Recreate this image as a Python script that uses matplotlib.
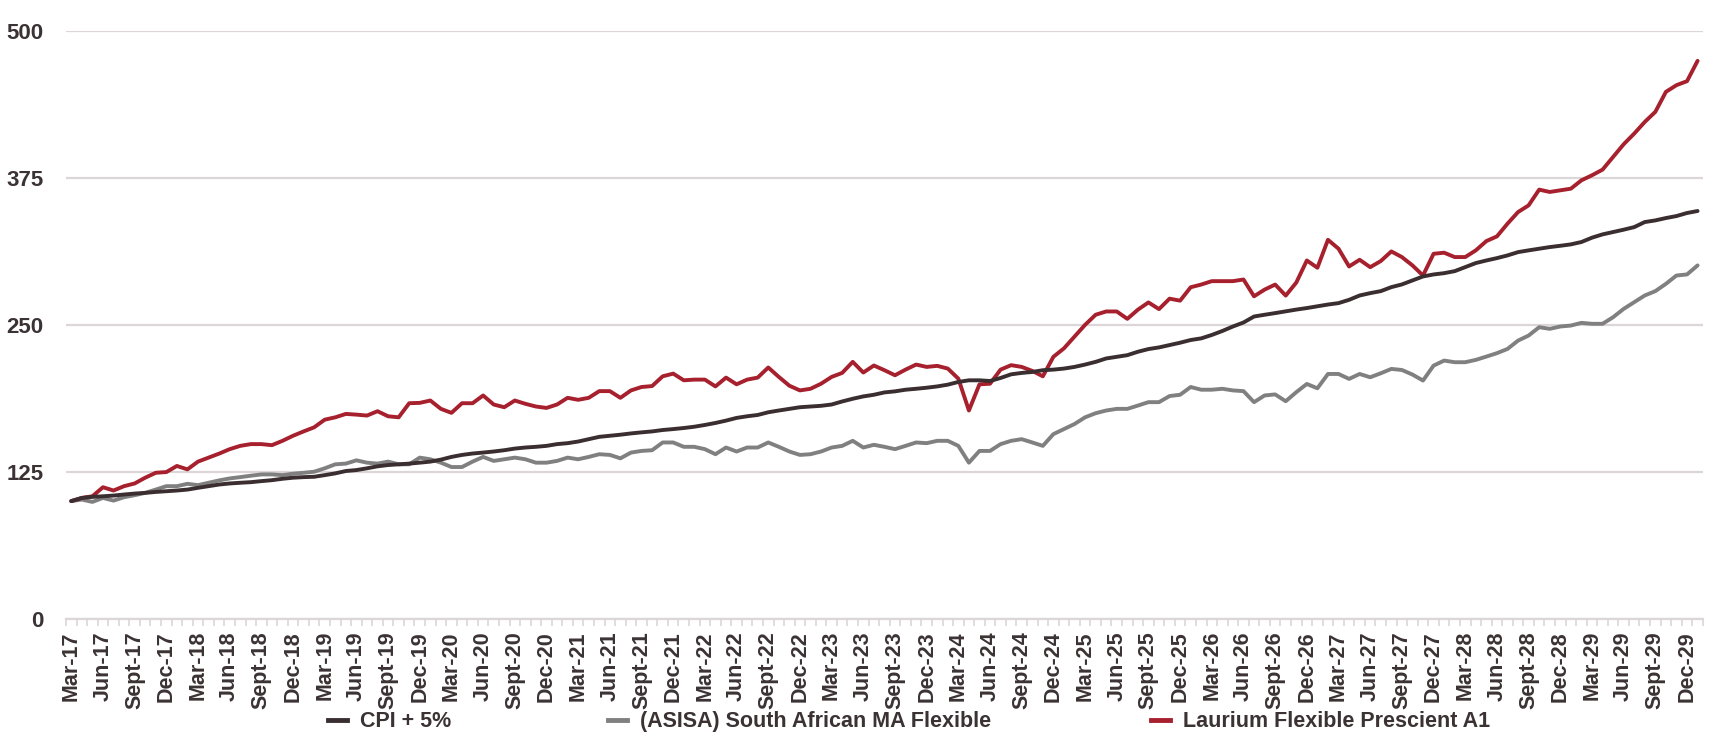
import matplotlib.pyplot as plt
from matplotlib.lines import Line2D

# monthly index values, Mar-17 .. Jan-30
cpi_plus_5 = [
    100.0, 102.7, 103.6, 104.1, 104.7, 105.6, 106.4, 107.0, 107.8, 108.4,
    109.0, 109.8, 111.3, 112.7, 114.1, 115.0, 115.6, 116.1, 117.0, 117.8,
    119.0, 119.9, 120.4, 120.7, 122.1, 123.6, 125.6, 126.4, 127.9, 129.6,
    130.7, 131.3, 131.9, 132.7, 133.6, 135.3, 137.6, 139.3, 140.5, 141.3,
    142.2, 143.3, 144.7, 145.6, 146.2, 147.0, 148.5, 149.3, 150.7, 152.7,
    154.7, 155.6, 156.5, 157.6, 158.5, 159.3, 160.5, 161.3, 162.2, 163.3,
    164.8, 166.5, 168.5, 170.8, 172.2, 173.3, 175.6, 177.1, 178.5, 179.9,
    180.5, 181.1, 182.2, 184.8, 187.1, 189.1, 190.5, 192.5, 193.4, 194.8,
    195.6, 196.5, 197.6, 199.1, 201.4, 202.8, 202.8, 202.2, 204.8, 207.9,
    209.1, 209.9, 211.4, 211.9, 212.8, 214.2, 216.2, 218.5, 221.4, 222.8,
    224.2, 227.1, 229.4, 230.8, 232.8, 234.8, 237.1, 238.5, 241.4, 244.8,
    248.6, 252.0, 257.1, 258.6, 260.0, 261.5, 263.0, 264.3, 265.8, 267.3,
    268.5, 271.3, 275.0, 277.0, 278.7, 282.1, 284.4, 287.8, 291.2, 292.9,
    294.0, 295.7, 299.1, 302.6, 304.8, 306.8, 309.1, 311.9, 313.4, 314.8,
    316.2, 317.3, 318.5, 320.5, 324.2, 327.0, 329.0, 331.0, 333.2, 337.5,
    338.9, 340.9, 342.6, 345.2, 346.9,
]

asisa_flexible = [
    100.0, 101.3, 99.3, 102.7, 100.4, 103.3, 105.0, 107.0, 109.8, 112.7,
    112.7, 114.7, 113.6, 115.6, 117.6, 119.3, 120.4, 121.6, 122.7, 122.7,
    122.1, 123.3, 124.1, 125.0, 127.9, 131.3, 131.9, 134.7, 132.7, 131.9,
    133.6, 131.3, 131.3, 137.0, 135.6, 132.7, 129.0, 129.0, 133.6, 137.6,
    134.2, 135.6, 137.0, 135.6, 132.7, 132.7, 134.2, 137.0, 135.6, 137.6,
    139.9, 139.3, 136.4, 141.3, 142.7, 143.3, 149.9, 149.9, 146.2, 146.2,
    144.2, 139.9, 145.6, 142.2, 145.6, 145.6, 149.9, 146.2, 142.2, 139.3,
    139.9, 142.2, 145.6, 147.0, 151.3, 145.6, 147.9, 146.2, 144.2, 147.0,
    149.9, 149.3, 151.3, 151.3, 147.0, 132.7, 142.7, 142.7, 148.5, 151.3,
    152.7, 149.9, 147.0, 157.0, 161.3, 165.6, 171.3, 174.8, 177.1, 178.5,
    178.5, 181.3, 184.2, 184.2, 189.4, 190.5, 197.1, 194.8, 194.8, 195.6,
    194.2, 193.6, 184.2, 189.9, 190.8, 185.0, 192.7, 199.7, 196.0, 208.2,
    208.2, 204.0, 208.2, 205.4, 208.8, 212.5, 211.6, 207.7, 202.6, 215.3,
    219.6, 218.2, 218.2, 220.2, 223.0, 225.9, 229.5, 236.6, 240.9, 248.0,
    246.6, 248.6, 249.4, 251.7, 250.9, 250.9, 256.5, 263.6, 269.3, 275.0,
    278.7, 284.9, 292.0, 292.9, 300.6,
]

laurium_a1 = [
    100.0, 102.7, 104.1, 111.8, 109.0, 112.7, 115.0, 119.9, 124.1, 124.7,
    129.9, 127.0, 133.6, 137.0, 140.4, 144.2, 147.0, 148.5, 148.5, 147.6,
    151.3, 155.6, 159.3, 162.8, 169.3, 171.3, 174.2, 173.6, 172.8, 176.5,
    172.2, 171.3, 183.3, 183.6, 185.6, 178.5, 175.1, 183.3, 183.3, 189.9,
    182.2, 179.9, 185.6, 182.8, 180.5, 179.3, 182.2, 187.9, 186.2, 187.9,
    193.6, 193.6, 187.9, 194.2, 197.1, 197.9, 206.2, 208.5, 202.8, 203.4,
    203.4, 197.6, 205.1, 199.4, 203.4, 205.1, 213.7, 205.7, 198.2, 194.2,
    195.6, 199.9, 205.7, 209.1, 218.5, 209.4, 215.4, 211.4, 207.1, 211.9,
    216.2, 214.2, 215.1, 212.8, 204.2, 177.1, 199.4, 199.9, 211.9, 215.7,
    214.2, 210.8, 206.2, 222.8, 230.0, 240.0, 250.0, 258.6, 261.4, 261.4,
    255.1, 262.9, 269.1, 263.4, 272.3, 270.6, 282.0, 284.3, 287.2, 287.2,
    287.2, 288.6, 274.3, 280.0, 284.3, 274.9, 286.0, 304.8, 298.6, 322.4,
    314.8, 299.7, 305.4, 299.1, 304.3, 312.5, 307.7, 300.6, 292.0, 310.5,
    311.4, 307.7, 307.7, 313.4, 321.3, 325.3, 336.1, 346.0, 351.7, 365.1,
    363.1, 364.5, 365.9, 373.0, 377.3, 382.1, 392.9, 403.7, 412.8, 422.7,
    431.3, 448.3, 454.0, 457.4, 474.7,
]

series_names = ["CPI + 5%", "(ASISA) South African MA Flexible",
                "Laurium Flexible Prescient A1"]
series_colors = ["#3A2E30", "#808080", "#A6202D"]

# one label every 3 months
tick_labels = [f"{m}-{y}" for y in range(17, 30)
               for m in ("Mar", "Jun", "Sept", "Dec")]
y_ticks = [0, 125, 250, 375, 500]

text_color = "#3B3234"
grid_color = "#DCD6D8"
plt.rcParams["font.family"] = ["Liberation Sans", "DejaVu Sans"]
plt.rcParams["font.weight"] = "bold"

fig = plt.figure(figsize=(17.14, 7.41), dpi=100)
ax = fig.add_axes([0.0385, 0.1652, 0.955, 0.7928])

n = len(laurium_a1)
x = list(range(n))
for vals, name, col, z in zip([cpi_plus_5, asisa_flexible, laurium_a1],
                              series_names, series_colors, [4, 3, 3]):
    ax.plot(x, vals, color=col, lw=2.8, label=name, solid_capstyle="round",
            zorder=z)

ax.set_xlim(-0.5, n - 0.5)
ax.set_ylim(0, 500)
ax.set_yticks(y_ticks)
ax.set_yticklabels([str(v) for v in y_ticks])
ax.yaxis.grid(True, color=grid_color, lw=1.6)
ax.set_axisbelow(True)

ax.set_xticks(range(0, 3 * len(tick_labels), 3))
ax.set_xticklabels(tick_labels, rotation=90)
ax.set_xticks([k - 0.5 for k in range(n + 1)], minor=True)

ax.tick_params(axis="y", length=0, pad=16, labelsize=16, labelcolor=text_color)
ax.tick_params(axis="x", which="major", length=0, pad=9, labelsize=15.5,
               labelcolor=text_color)
ax.tick_params(axis="x", which="minor", length=5, width=1.2, color=grid_color)

for s in ["top", "right", "left"]:
    ax.spines[s].set_visible(False)
ax.spines["bottom"].set_color(grid_color)
ax.spines["bottom"].set_linewidth(1.6)

# legend entries spread along the bottom, like the original
legend_x = [0.1914, 0.3547, 0.6715]
for name, col, lx in zip(series_names, series_colors, legend_x):
    h = Line2D([], [], color=col, lw=3.5)
    fig.legend([h], [name], loc="center left", bbox_to_anchor=(lx, 0.026),
               frameon=False, handlelength=0.9, handletextpad=0.6,
               fontsize=15.5, labelcolor=text_color, borderaxespad=0,
               borderpad=0)

fig.savefig("out.png", dpi=100)
plt.close(fig)
